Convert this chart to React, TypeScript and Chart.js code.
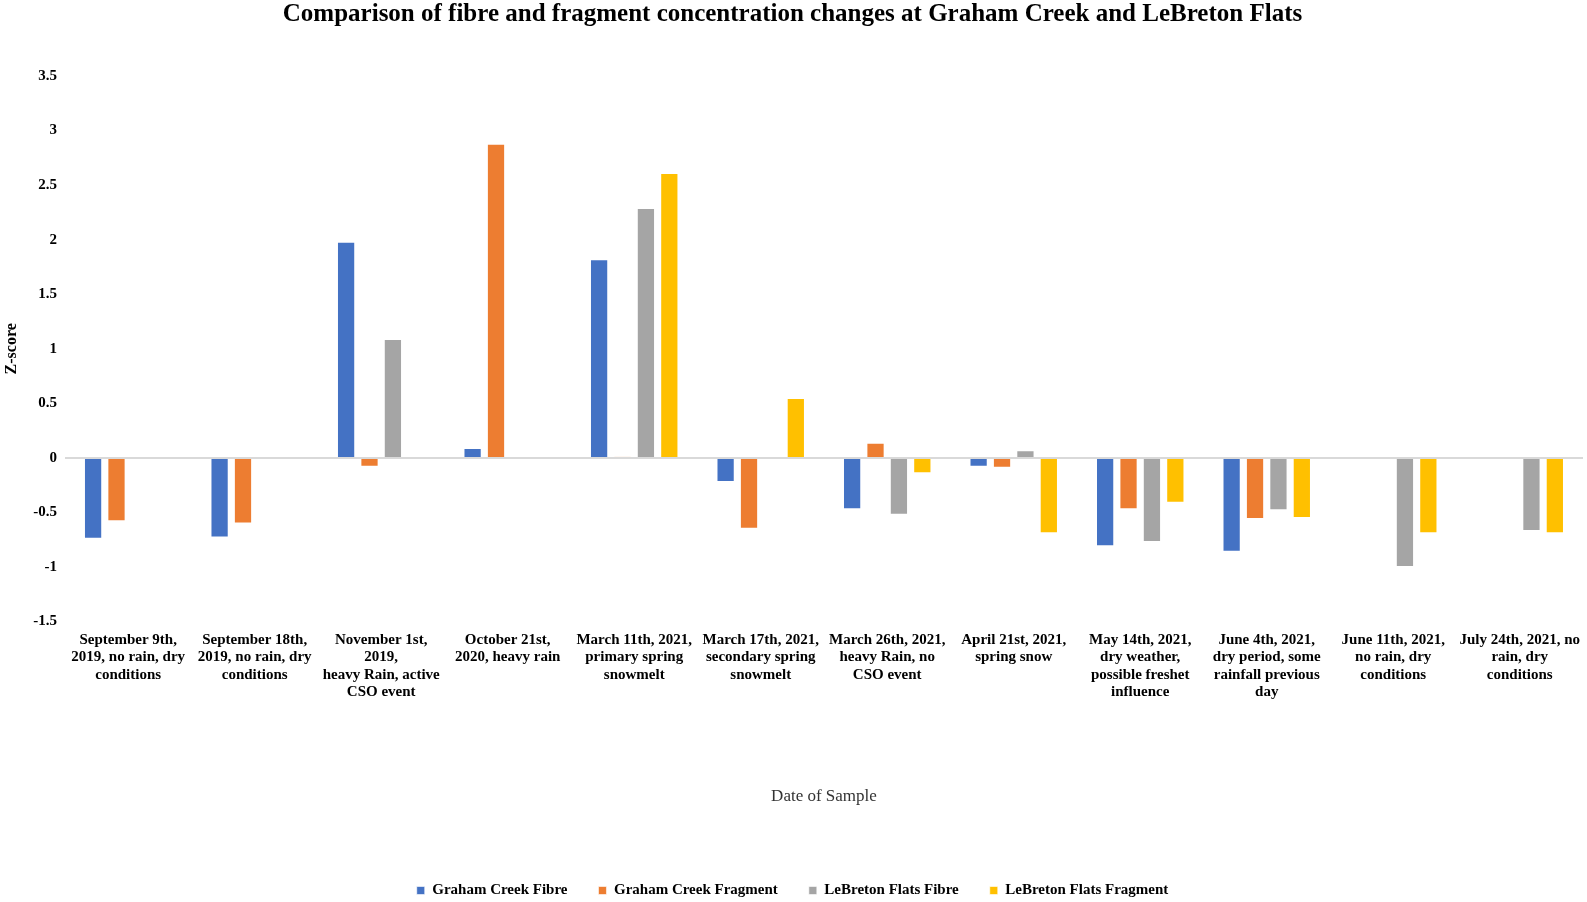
import { useEffect, useRef } from "react";
import Chart from "chart.js/auto";

const categories = [
  ["September 9th,", "2019, no rain, dry", "conditions"],
  ["September 18th,", "2019, no rain, dry", "conditions"],
  ["November 1st,", "2019,", "heavy Rain, active", "CSO event"],
  ["October 21st,", "2020, heavy rain"],
  ["March 11th, 2021,", "primary spring", "snowmelt"],
  ["March 17th, 2021,", "secondary spring", "snowmelt"],
  ["March 26th, 2021,", "heavy Rain, no", "CSO event"],
  ["April 21st, 2021,", "spring snow"],
  ["May 14th, 2021,", "dry weather,", "possible freshet", "influence"],
  ["June 4th, 2021,", "dry period, some", "rainfall previous", "day"],
  ["June 11th, 2021,", "no rain, dry", "conditions"],
  ["July 24th, 2021, no", "rain, dry", "conditions"],
];

const grahamFibre = [-0.74, -0.73, 1.98, 0.09, 1.82, -0.22, -0.47, -0.08, -0.81, -0.86, null, null];
const grahamFragment = [-0.58, -0.6, -0.08, 2.88, 0.01, -0.65, 0.14, -0.09, -0.47, -0.56, null, null];
const lebretonFibre = [null, null, 1.09, null, 2.29, null, -0.52, 0.07, -0.77, -0.48, -1.0, -0.67];
const lebretonFragment = [null, null, null, null, 2.61, 0.55, -0.14, -0.69, -0.41, -0.55, -0.69, -0.69];

const serif = "'Liberation Serif', 'Times New Roman', serif";

export default function App() {
  const chartRef = useRef<HTMLCanvasElement>(null);
  const chartInstance = useRef<Chart | null>(null);

  useEffect(() => {
    document.body.style.margin = "0";
    const ctx = chartRef.current?.getContext("2d");
    if (!ctx) return;

    if (chartInstance.current) {
      chartInstance.current.destroy();
    }

    const bar = (label: string, data: (number | null)[], color: string) => ({
      label,
      data,
      backgroundColor: color,
      borderColor: "rgba(255,255,255,0.6)",
      borderWidth: 1,
      barPercentage: 0.78,
      categoryPercentage: 0.74,
    });

    chartInstance.current = new Chart(ctx, {
      type: "bar",
      data: {
        labels: categories,
        datasets: [
          bar("Graham Creek Fibre", grahamFibre, "#4472C4"),
          bar("Graham Creek Fragment", grahamFragment, "#ED7D31"),
          bar("LeBreton Flats Fibre", lebretonFibre, "#A5A5A5"),
          bar("LeBreton Flats Fragment", lebretonFragment, "#FFC000"),
        ],
      },
      options: {
        animation: false,
        responsive: true,
        maintainAspectRatio: false,
        layout: { padding: { top: 0, right: 4, bottom: -6, left: 2 } },
        plugins: {
          title: {
            display: true,
            text: "Comparison of fibre and fragment concentration changes at Graham Creek and LeBreton Flats",
            color: "#000",
            font: { family: serif, size: 25, weight: "bold" },
            padding: { top: 0, bottom: 46 },
          },
          legend: {
            position: "bottom",
            labels: {
              color: "#000",
              boxWidth: 8,
              boxHeight: 8,
              padding: 31,
              font: { family: serif, size: 15, weight: "bold" },
            },
          },
          tooltip: { enabled: false },
        },
        scales: {
          x: {
            grid: { display: false },
            border: { display: false },
            ticks: {
              color: "#000",
              maxRotation: 0,
              autoSkip: false,
              padding: 2,
              font: { family: serif, size: 15, weight: "bold", lineHeight: 1.15 },
            },
            title: {
              display: true,
              text: "Date of Sample",
              color: "#333",
              font: { family: serif, size: 17 },
              padding: { top: 84, bottom: 45 },
            },
          },
          y: {
            min: -1.5,
            max: 3.5,
            border: { display: false },
            grid: {
              drawTicks: false,
              color: (c: any) => (c.tick && c.tick.value === 0 ? "#D9D9D9" : "rgba(0,0,0,0)"),
              lineWidth: 2,
            },
            ticks: {
              stepSize: 0.5,
              color: "#000",
              padding: 8,
              font: { family: serif, size: 15, weight: "bold" },
              callback: (v: any) => String(Number(v)),
            },
            title: {
              display: true,
              text: "Z-score",
              color: "#000",
              font: { family: serif, size: 16, weight: "bold" },
              padding: { top: 0, bottom: 4 },
            },
          },
        },
      },
    });

    return () => {
      chartInstance.current?.destroy();
    };
  }, []);

  return (
    <div style={{ width: 1587, height: 902, background: "#fff", position: "relative" }}>
      <canvas ref={chartRef} />
    </div>
  );
}
